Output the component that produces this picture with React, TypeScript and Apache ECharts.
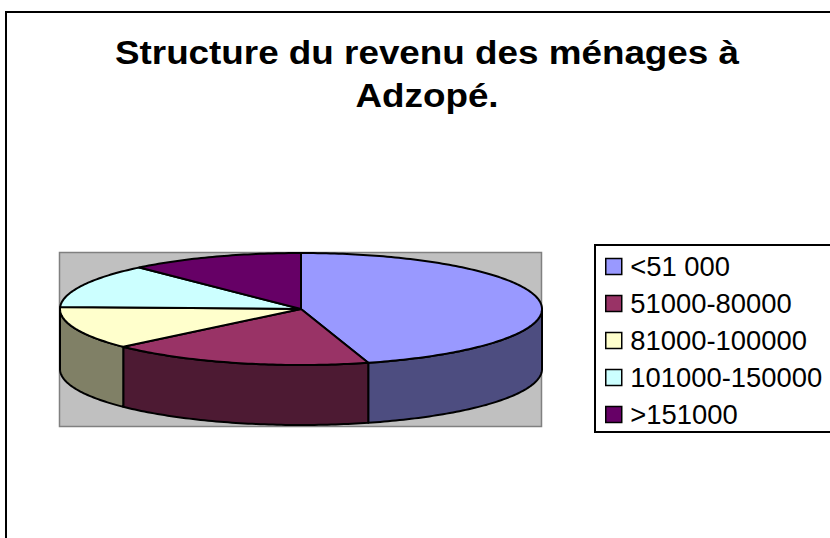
import React, { useEffect, useRef } from "react";
import * as echarts from "echarts";

const categories = ["<51 000", "51000-80000", "81000-100000", "101000-150000", ">151000"];
const shares = [45.5, 17.7, 12.4, 12.7, 11.7];
const topColors = ["#9999FF", "#993366", "#FFFFCC", "#CCFFFF", "#660066"];
const wallColors = ["#4D4D80", "#4D1A33", "#808066", "#668080", "#330033"];
const titleLines = ["Structure du revenu des ménages à", "Adzopé."];

const CX = 301, CY = 309, RX = 241, RY = 56, DEPTH = 60;
const total = shares.reduce((a, b) => a + b, 0);
const pt = (deg: number, dy = 0): number[] => {
  const r = (deg * Math.PI) / 180;
  return [CX + RX * Math.sin(r), CY - RY * Math.cos(r) + dy];
};
const arc = (a: number, b: number, dy = 0): number[][] => {
  const n = Math.max(2, Math.ceil(b - a));
  const out: number[][] = [];
  for (let i = 0; i <= n; i++) out.push(pt(a + ((b - a) * i) / n, dy));
  return out;
};

const sliceRenderer = (index: number) => (_p: any, api: any) => {
  const value = api.value(0);
  const before = shares.slice(0, index).reduce((a, b) => a + b, 0);
  const start = (before / total) * 360;
  const end = start + (value / total) * 360;
  const children: any[] = [];
  const wa = Math.max(start, 90), wb = Math.min(end, 270);
  const line = { stroke: "#000", lineWidth: 2, lineJoin: "round" };
  if (wb > wa) {
    const upper = arc(wa, wb);
    const lower = arc(wa, wb, DEPTH).reverse();
    children.push({
      type: "polygon",
      shape: { points: upper.concat(lower) },
      style: { fill: wallColors[index], ...line },
    });
  }
  children.push({
    type: "polygon",
    shape: { points: [[CX, CY], ...arc(start, end)] },
    style: { fill: topColors[index], ...line },
  });
  return { type: "group", children };
};

export default function App() {
  const ref = useRef<HTMLDivElement>(null);
  useEffect(() => {
    document.body.style.margin = "0";
    const chart = echarts.init(ref.current!, null, { renderer: "svg" });
    chart.setOption({
      animation: false,
      backgroundColor: "#fff",
      legend: {
        orient: "vertical",
        left: 605,
        top: 253,
        padding: 0,
        itemWidth: 23,
        itemHeight: 16,
        itemGap: 10,
        selectedMode: false,
        data: categories,
        icon: "path://M0 0H16V16H0Z",
        itemStyle: { borderColor: "#000", borderWidth: 1.5 },
        textStyle: {
          fontFamily: "Liberation Sans",
          fontSize: 27.4,
          lineHeight: 27,
          color: "#000",
        },
      },
      graphic: [
        {
          type: "rect",
          z: 0,
          shape: { x: 6, y: 12, width: 900, height: 800 },
          style: { fill: "#fff", stroke: "#000", lineWidth: 2 },
        },
        ...titleLines.map((text, i) => ({
          type: "text",
          z: 1,
          x: 427,
          y: 52 + i * 43.3,
          scaleX: 1.116,
          style: {
            text,
            fill: "#000",
            font: "bold 33px 'Liberation Sans'",
            align: "center",
            verticalAlign: "middle",
          },
        })),
        {
          type: "rect",
          z: 1,
          shape: { x: 59.5, y: 252.5, width: 482, height: 174 },
          style: { fill: "#C0C0C0", stroke: "#808080", lineWidth: 1.5 },
        },
        {
          type: "rect",
          z: 1,
          shape: { x: 595, y: 245, width: 300, height: 187 },
          style: { fill: "#fff", stroke: "#000", lineWidth: 2 },
        },
      ],
      series: categories.map((name, i) => ({
        type: "custom",
        name,
        coordinateSystem: "none",
        z: 2,
        itemStyle: { color: topColors[i] },
        data: [[shares[i]]],
        encode: { value: 0 },
        renderItem: sliceRenderer(i),
      })),
    });
    return () => chart.dispose();
  }, []);
  return <div ref={ref} style={{ width: 830, height: 538, overflow: "hidden" }} />;
}
